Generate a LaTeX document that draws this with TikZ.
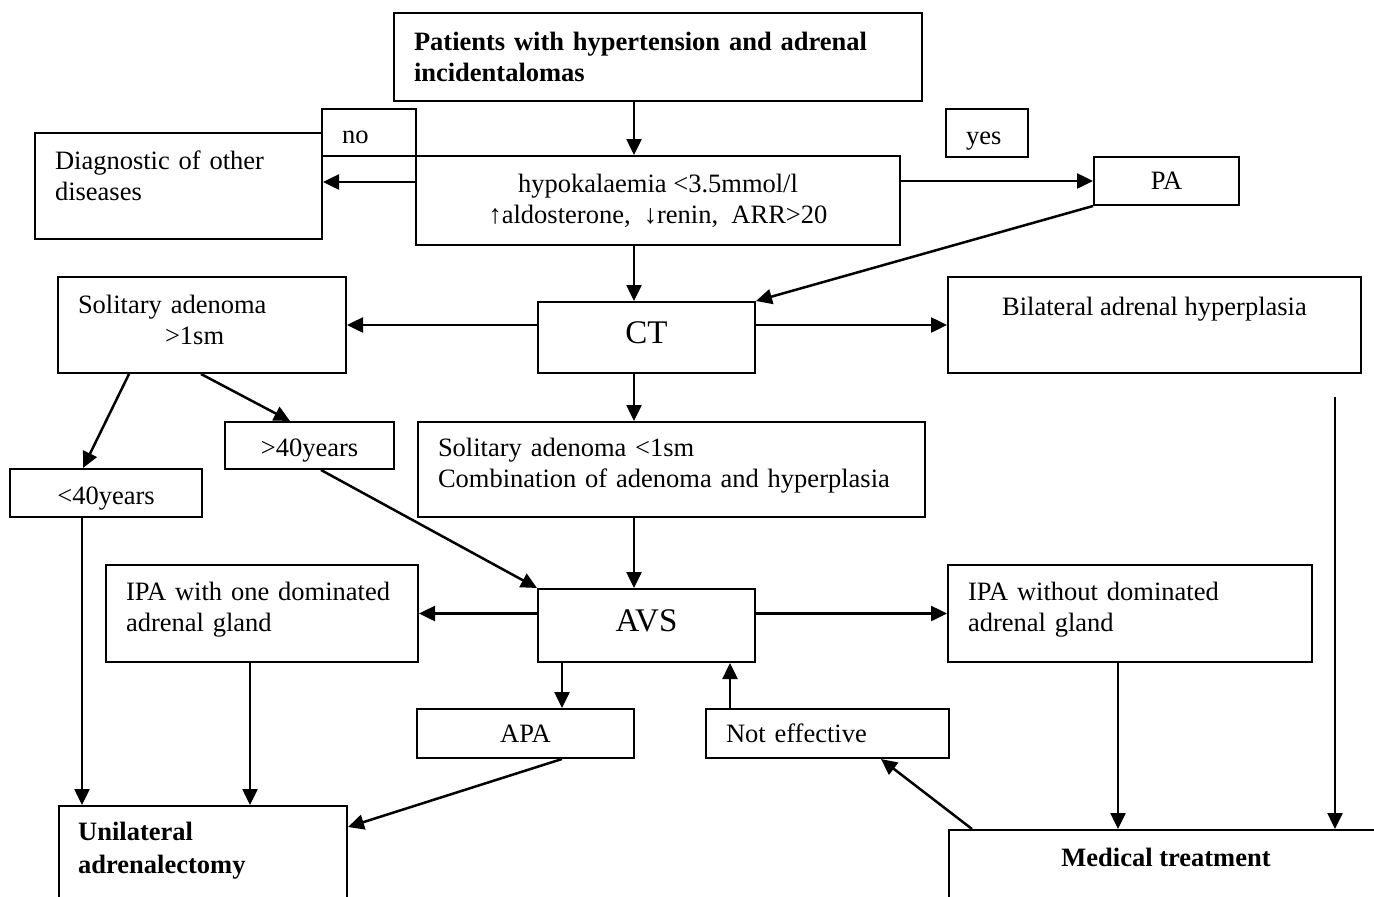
\documentclass[tikz,border=0pt]{standalone}
\usepackage{fontspec}
\setmainfont{Liberation Serif}
\usetikzlibrary{arrows.meta,positioning}

\tikzset{
  box/.style={draw, line width=2pt, inner sep=0pt, align=center, font=\fontsize{26.5}{31}\selectfont},
  lbox/.style={box, align=left, inner xsep=20pt},
  smallbox/.style={text height=22pt, text depth=0pt},
  bigbox/.style={box, text depth=10pt, font=\fontsize{33}{38}\selectfont},
  boldtext/.style={inner sep=0pt, align=left, font=\fontsize{26.5}{33}\selectfont\bfseries},
  arr/.style={-{Triangle[length=16pt,width=15pt]}, line width=2.5pt},
}

\begin{document}
\begin{tikzpicture}[x=1pt,y=-1pt] % one unit = one pixel, y downwards
\useasboundingbox (0,0) rectangle (1374,897);
\clip (0,0) rectangle (1374,897);

% boxes
\node[lbox, font=\fontsize{26.5}{31}\selectfont\bfseries, minimum height=88pt, text width=488pt] (top) at (658,57) {Patients with hypertension and adrenal\\incidentalomas};
\node[lbox, smallbox, minimum height=47pt, text width=54pt] (no) at (369,132.5) {no};
\node[lbox, smallbox, minimum height=48pt, text width=42pt] (yes) at (987,133) {yes};
\node[lbox, text depth=51pt, minimum height=106pt, text width=247pt] (diag) at (178.5,186) {Diagnostic of other\\diseases};
\node[box, minimum width=484pt, minimum height=89pt] (hypo) at (658,200.5) {hypokalaemia <3.5mmol/l\\↑aldosterone,\ \ ↓renin,\ \ ARR>20};
\node[box, minimum width=145pt, minimum height=48pt] (pa) at (1166.5,181) {PA};
\node[bigbox, minimum width=217pt, minimum height=71pt] (ct) at (646.5,337.5) {CT};
\node[lbox, text depth=41pt, minimum height=96pt, text width=248pt] (sol1) at (202,325) {Solitary adenoma\\\hspace*{87pt}>1sm};
\node[box, minimum width=413pt, minimum height=96pt] (bil) at (1154.5,325) {Bilateral adrenal hyperplasia\\[6pt]\mbox{}};
\node[box, smallbox, minimum width=169pt, minimum height=47pt] (gt40) at (309.5,445.5) {>40years};
\node[box, smallbox, minimum width=192pt, minimum height=48pt] (lt40) at (106,493) {<40years};
\node[lbox, text depth=45pt, minimum height=95pt, text width=467pt] (sol2) at (671.5,469.5) {Solitary adenoma <1sm\\Combination of adenoma and hyperplasia};
\node[lbox, text depth=45pt, minimum height=97pt, text width=272pt] (ipa1) at (262,613.5) {IPA with one dominated\\adrenal gland};
\node[bigbox, minimum width=217pt, minimum height=73pt] (avs) at (646.5,625.5) {AVS};
\node[lbox, text depth=45pt, minimum height=97pt, text width=324pt] (ipa2) at (1130,613.5) {IPA without dominated\\adrenal gland};
\node[box, minimum width=217pt, minimum height=49pt] (apa) at (525.5,733.5) {APA};
\node[lbox, minimum height=49pt, text width=203pt] (noteff) at (827.5,733.5) {Not effective};
\node[box, minimum width=288pt, minimum height=180pt, anchor=north west] (unil) at (58,805) {}; % runs off the page
\node[box, minimum width=434pt, minimum height=180pt, anchor=north west] (med) at (948,829) {};
\node[boldtext, below right=17pt and 20pt of unil.north west] (unilt) {Unilateral\\adrenalectomy};
\node[boldtext, below=19pt of med.north] (medt) {Medical treatment};

% arrows down the middle
\draw[arr] (top.south -| 634,0) -- (hypo.north -| 634,0);
\draw[arr] (hypo.south -| 634,0) -- (ct.north -| 634,0);
\draw[arr] (ct.south -| 634,0) -- (sol2.north -| 634,0);
\draw[arr] (sol2.south -| 634,0) -- (avs.north -| 634,0);

% side arrows
\draw[arr] (hypo.west |- 0,182) -- (diag.east |- 0,182);
\draw[arr] (hypo.east |- pa.west) -- (pa.west);
\draw[arr] (pa.south west) -- (ct.north east);
\draw[arr] (ct.west |- sol1.east) -- (sol1.east);
\draw[arr] (ct.east |- bil.west) -- (bil.west);
\draw[arr] (sol1.south -| 129,0) -- (lt40.north -| 83,0);
\draw[arr] (sol1.south -| 201,0) -- (gt40.north -| 290,0);
\draw[arr] (gt40.south -| 321,0) -- (avs.north west);
\draw[arr] (lt40.south -| 82,0) -- (unil.north -| 82,0);
\draw[arr] (avs.west |- ipa1.east) -- (ipa1.east);
\draw[arr] (avs.east |- ipa2.west) -- (ipa2.west);
\draw[arr] (avs.south -| 562,0) -- (apa.north -| 562,0);
\draw[arr] (noteff.north -| 730,0) -- (avs.south -| 730,0);
\draw[arr] (apa.south -| 562,0) -- (unil.east |- 0,827);
\draw[arr] (ipa1.south -| 250,0) -- (unil.north -| 250,0);
\draw[arr] (ipa2.south -| 1118,0) -- (med.north -| 1118,0);
\coordinate (bilfoot) at (1335,397); % line starts below the box
\draw[arr] (bilfoot) -- (med.north -| bilfoot);
\draw[arr] (med.north -| 972,0) -- (noteff.south -| 881,0);
\end{tikzpicture}
\end{document}
